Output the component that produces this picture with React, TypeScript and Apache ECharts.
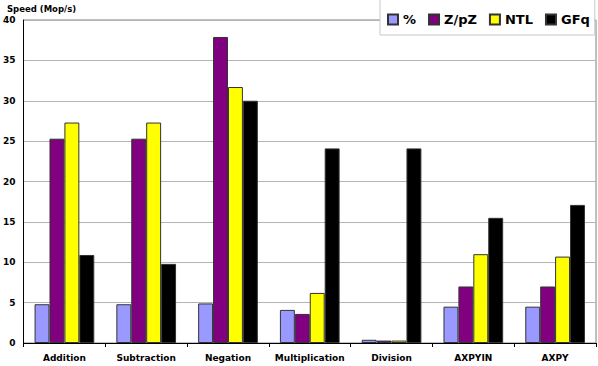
import React, { useEffect, useRef } from "react";
import * as echarts from "echarts";

const categories = ["Addition", "Subtraction", "Negation", "Multiplication", "Division", "AXPYIN", "AXPY"];
const seriesNames = ["%", "Z/pZ", "NTL", "GFq"];
const pctValues = [4.8, 4.8, 4.9, 4.1, 0.4, 4.5, 4.5];
const zpzValues = [25.3, 25.3, 37.9, 3.6, 0.3, 7.0, 7.0];
const ntlValues = [27.3, 27.3, 31.7, 6.2, 0.3, 11.0, 10.7];
const gfqValues = [10.9, 9.8, 30.0, 24.1, 24.1, 15.5, 17.1];
const colors = ["#9999FF", "#800080", "#FFFF00", "#000000"];
const yTicks = { min: 0, max: 40, interval: 5 };

const FONT = "DejaVu Sans";

export default function App() {
  const ref = useRef<HTMLDivElement>(null);
  useEffect(() => {
    if (!ref.current) return;
    const chart = echarts.init(ref.current, null, { renderer: "svg" });
    const data = [pctValues, zpzValues, ntlValues, gfqValues];
    chart.setOption({
      animation: false,
      backgroundColor: "#ffffff",
      textStyle: { fontFamily: FONT },
      grid: {
        left: 22,
        right: 2,
        top: 20,
        bottom: 23,
        show: true,
        borderColor: "#808080",
        borderWidth: 1,
        backgroundColor: "#ffffff",
      },
      graphic: [
        {
          type: "text",
          left: 7,
          top: 4,
          style: {
            text: "Speed (Mop/s)",
            fontFamily: FONT,
            fontWeight: "bold",
            fontSize: 8.5,
            fill: "#000",
          },
        },
      ],
      legend: {
        data: seriesNames,
        left: 380,
        top: -1,
        padding: [14, 5, 9, 7],
        itemWidth: 10,
        itemHeight: 10,
        itemGap: 12,
        icon: "rect",
        backgroundColor: "#ffffff",
        borderColor: "#c8c8c8",
        borderWidth: 1,
        textStyle: { fontFamily: FONT, fontWeight: "bold", fontSize: 13, color: "#000" },
      },
      xAxis: {
        type: "category",
        data: categories,
        axisLine: { lineStyle: { color: "#000", width: 1 } },
        axisTick: { show: true, length: 4, lineStyle: { color: "#000" } },
        axisLabel: { interval: 0, fontFamily: FONT, fontWeight: "bold", fontSize: 9, color: "#000", margin: 10 },
      },
      yAxis: {
        type: "value",
        min: yTicks.min,
        max: yTicks.max,
        interval: yTicks.interval,
        axisLine: { show: true, lineStyle: { color: "#000", width: 1 } },
        axisTick: { show: false },
        splitLine: { lineStyle: { color: "#b4b4b4", width: 1 } },
        axisLabel: { fontFamily: FONT, fontWeight: "bold", fontSize: 9, color: "#000", margin: 8 },
      },
      series: seriesNames.map((name, i) => ({
        name,
        type: "bar",
        data: data[i],
        barGap: "0%",
        barCategoryGap: "27%",
        itemStyle: { color: colors[i], borderColor: "#333333", borderWidth: 1 },
      })),
    });
    return () => chart.dispose();
  }, []);
  return <div ref={ref} style={{ width: 598, height: 366, position: "absolute", left: 0, top: 0 }} />;
}
